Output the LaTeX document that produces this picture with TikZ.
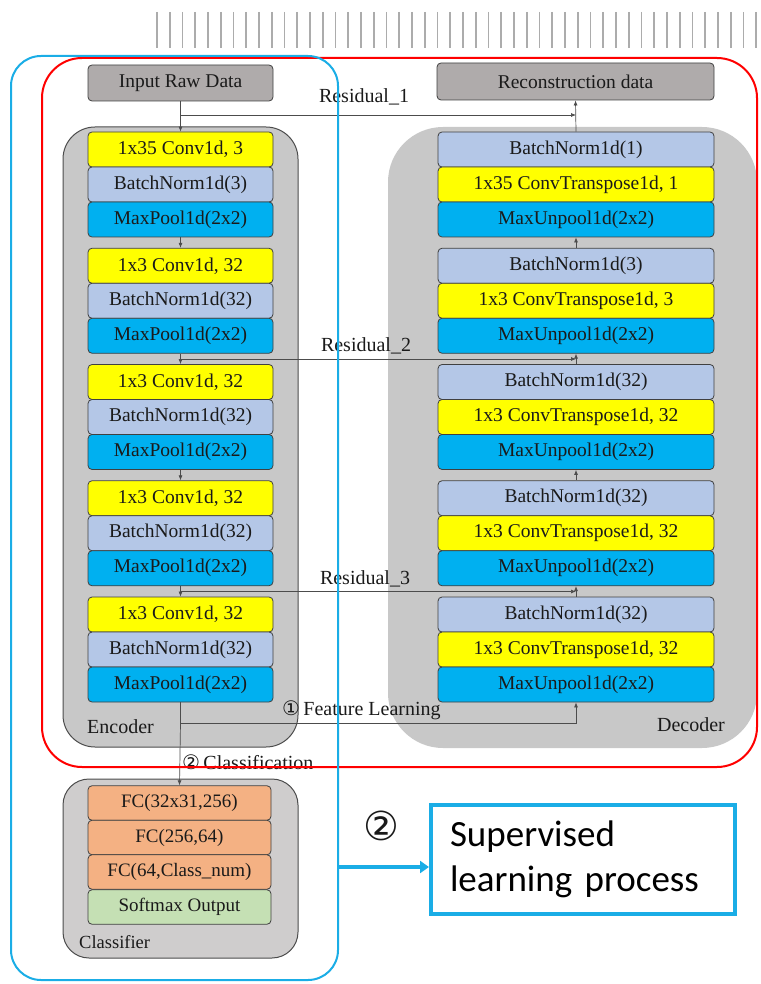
\documentclass[tikz,border=0pt]{standalone}
\usepackage{fontspec}
\setmainfont{Liberation Serif}
\newfontfamily\circfont{DejaVu Sans}
\newfontfamily\calfont{Carlito}
\usetikzlibrary{arrows.meta,calc}

\definecolor{convY}{HTML}{FFFF00}
\definecolor{bnB}{HTML}{B4C7E7}
\definecolor{poolB}{HTML}{00B0F0}
\definecolor{fcO}{HTML}{F4B183}
\definecolor{smG}{HTML}{C5E0B4}
\definecolor{hdrG}{HTML}{AFABAB}
\definecolor{panelG}{HTML}{C8C8C8}
\definecolor{clsG}{HTML}{CFCDCD}
\definecolor{frameB}{HTML}{1AADE6}
\definecolor{frameR}{HTML}{FF0000}
\definecolor{inkc}{HTML}{1A1A1A}

\tikzset{
  blk/.style={draw=black!75, line width=0.8pt, rounded corners=4pt,
    minimum height=35pt, inner sep=0pt, text=inkc,
    font=\fontsize{19.5}{21}\selectfont},
  enc/.style={blk, minimum width=185pt},
  dec/.style={blk, minimum width=276pt},
  clsblk/.style={blk, minimum width=183pt, minimum height=34.5pt,
    font=\fontsize{19}{21}\selectfont},
  conv/.style={fill=convY},
  bn/.style={fill=bnB},
  pool/.style={fill=poolB},
  hdr/.style={blk, fill=hdrG, minimum height=36pt},
  lbl/.style={inner sep=1pt, text=inkc, font=\fontsize{20}{22}\selectfont},
  arr/.style={draw=black!70, line width=0.7pt, -{Latex[length=5pt,width=4pt]}},
  ln/.style={draw=black!70, line width=0.7pt},
  panel/.style={fill=panelG, draw=black!70, line width=1pt},
}

\begin{document}
\begin{tikzpicture}[x=1pt,y=-1pt]
\useasboundingbox (0,0) rectangle (760,984);

% striped strip along the top edge
\foreach \k in {0,...,47}
  \draw[gray!65, line width=1.6pt] ({157+12.75*\k},12) -- ++(0,36);

% panels
\fill[panelG, rounded corners=55pt] (388,127) rectangle (757,748);
\path[panel, rounded corners=32pt] (63,127) rectangle (298,747);
\path[panel, fill=clsG, rounded corners=26pt] (63,779) rectangle (298,958);

% headers
\node[hdr, minimum width=185pt] (in) at (180.5,83) {Input Raw Data};
\node[hdr, minimum width=277pt, minimum height=37pt] (rec) at (575.5,81.5) {Reconstruction data};

% encoder
\node[enc,conv] (e1a) at (180.5,149.5) {1x35 Conv1d, 3};
\node[enc,bn]   (e1b) at (180.5,184.5) {BatchNorm1d(3)};
\node[enc,pool] (e1c) at (180.5,219.5) {MaxPool1d(2x2)};
\node[enc,conv] (e2a) at (180.5,265.75) {1x3 Conv1d, 32};
\node[enc,bn]   (e2b) at (180.5,300.75) {BatchNorm1d(32)};
\node[enc,pool] (e2c) at (180.5,335.75) {MaxPool1d(2x2)};
\node[enc,conv] (e3a) at (180.5,382) {1x3 Conv1d, 32};
\node[enc,bn]   (e3b) at (180.5,417) {BatchNorm1d(32)};
\node[enc,pool] (e3c) at (180.5,452) {MaxPool1d(2x2)};
\node[enc,conv] (e4a) at (180.5,498.25) {1x3 Conv1d, 32};
\node[enc,bn]   (e4b) at (180.5,533.25) {BatchNorm1d(32)};
\node[enc,pool] (e4c) at (180.5,568.25) {MaxPool1d(2x2)};
\node[enc,conv] (e5a) at (180.5,614.5) {1x3 Conv1d, 32};
\node[enc,bn]   (e5b) at (180.5,649.5) {BatchNorm1d(32)};
\node[enc,pool] (e5c) at (180.5,684.5) {MaxPool1d(2x2)};

% decoder
\node[dec,bn]   (d1a) at (576,149.5) {BatchNorm1d(1)};
\node[dec,conv] (d1b) at (576,184.5) {1x35 ConvTranspose1d, 1};
\node[dec,pool] (d1c) at (576,219.5) {MaxUnpool1d(2x2)};
\node[dec,bn]   (d2a) at (576,265.75) {BatchNorm1d(3)};
\node[dec,conv] (d2b) at (576,300.75) {1x3 ConvTranspose1d, 3};
\node[dec,pool] (d2c) at (576,335.75) {MaxUnpool1d(2x2)};
\node[dec,bn]   (d3a) at (576,382) {BatchNorm1d(32)};
\node[dec,conv] (d3b) at (576,417) {1x3 ConvTranspose1d, 32};
\node[dec,pool] (d3c) at (576,452) {MaxUnpool1d(2x2)};
\node[dec,bn]   (d4a) at (576,498.25) {BatchNorm1d(32)};
\node[dec,conv] (d4b) at (576,533.25) {1x3 ConvTranspose1d, 32};
\node[dec,pool] (d4c) at (576,568.25) {MaxUnpool1d(2x2)};
\node[dec,bn]   (d5a) at (576,614.5) {BatchNorm1d(32)};
\node[dec,conv] (d5b) at (576,649.5) {1x3 ConvTranspose1d, 32};
\node[dec,pool] (d5c) at (576,684.5) {MaxUnpool1d(2x2)};

% classifier
\node[clsblk, fill=fcO] (c1) at (179.5,803) {FC(32x31,256)};
\node[clsblk, fill=fcO] (c2) at (179.5,837.5) {FC(256,64)};
\node[clsblk, fill=fcO] (c3) at (179.5,872) {FC(64,Class\_num)};
\node[clsblk, fill=smG] (c4) at (179.5,907) {Softmax Output};

% panel captions
\node[lbl, anchor=west] (encl) at (86,727) {Encoder};
\node[lbl, anchor=east] (decl) at (726,725) {Decoder};
\node[lbl, anchor=west, font=\fontsize{18.5}{20}\selectfont] (clsl) at (78,942) {Classifier};

% encoder flow and residual links
\coordinate (r1) at (180.5,115);
\draw[arr] (in.south) -- (e1a.north);
\draw[arr] (r1) -- (r1 -| d1a.north);
\draw[arr] (d1a.north) -- (rec.south);
\node[lbl] (r1l) at (364,97) {Residual\_1};

\draw[arr] (e1c.south) -- (e2a.north);
\draw[arr] (e2c.south) -- (e3a.north);
\draw[arr] (e3c.south) -- (e4a.north);
\draw[arr] (e4c.south) -- (e5a.north);

\coordinate (r2) at (180.5,359);
\draw[arr] (r2) -- (r2 -| d2c.south);
\node[lbl] (r2l) at (366,346) {Residual\_2};

\coordinate (r3) at (180.5,591.5);
\draw[arr] (r3) -- (r3 -| d4c.south);
\node[lbl] (r3l) at (365,579) {Residual\_3};

% decoder flow (upwards)
\draw[arr] (d2a.north) -- (d1c.south);
\draw[arr] (d3a.north) -- (d2c.south);
\draw[arr] (d4a.north) -- (d3c.south);
\draw[arr] (d5a.north) -- (d4c.south);

% branch to decoder and classifier
\coordinate (fl) at (180.5,723);
\draw[ln] (e5c.south) -- (fl);
\draw[arr] (fl) -| (d5c.south);
\node[lbl, anchor=west] (fll) at (281,710) {{\circfont\fontsize{20}{20}\selectfont ①}\,Feature Learning};
\draw[arr] (fl) -- (c1.north);
\node[lbl, anchor=west] (cll) at (181,762) {{\circfont\fontsize{20}{20}\selectfont ②}\,Classification};

% outer frames
\draw[frameR, line width=2pt, rounded corners=40pt] (42,58) rectangle (757,767);
\node[draw=frameB, line width=2pt, rounded corners=30pt, minimum width=327pt,
      minimum height=924pt, inner sep=0pt] (clsframe) at (174.5,518) {};

% supervised learning note
\node[draw=frameB, line width=4pt, minimum width=304pt, minimum height=109pt,
      inner xsep=19pt, text width=266pt, align=left, text=black,
      font=\calfont\fontsize{37}{45}\selectfont] (sup) at (583,859)
      {Supervised\\learning process};
\coordinate (ay) at (0,867);
\draw[frameB, line width=4pt, -{Triangle[length=9pt,width=12pt]}]
  (clsframe.east |- ay) -- (sup.west |- ay);
\node[inner sep=0pt, text=inkc, font=\circfont\fontsize{40}{40}\selectfont] (two) at (381,826) {②};

\end{tikzpicture}
\end{document}
